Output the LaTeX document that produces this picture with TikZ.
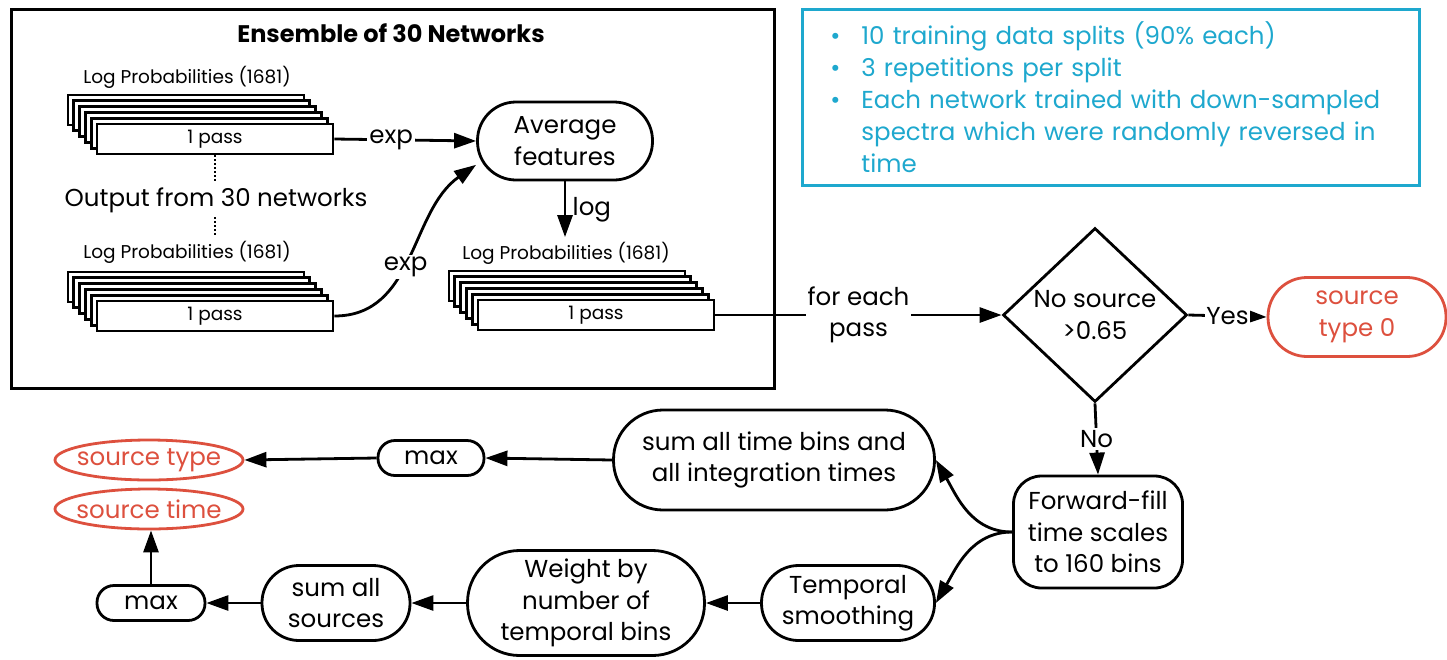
\documentclass[tikz,border=0pt]{standalone}
\usepackage{fontspec}
\setmainfont{Poppins}
\usetikzlibrary{shapes.geometric,arrows.meta}
\definecolor{srcred}{RGB}{221,80,62}
\definecolor{noteblue}{RGB}{30,168,206}

\begin{document}
\begin{tikzpicture}[x=1pt,y=1pt,line width=2.8pt,
                    >={Triangle[length=22pt,width=15pt]},
                    big/.style={font=\fontsize{24.5}{31.5}\selectfont},
                    small/.style={font=\fontsize{18.5}{22}\selectfont},
                    pass box/.style={draw,fill=white,minimum width=236pt,minimum height=30pt,inner sep=0pt,small},
                    round node/.style={draw,align=center,inner sep=0pt,big,minimum height=#1,rounded corners=#1/2-0.5pt},
                    out node/.style={draw=srcred,text=srcred,align=center,inner sep=0pt,big},
                    lbl/.style={fill=white,inner sep=2pt,big}]

  \useasboundingbox[fill=white] (0,0) rectangle (1447,-659);

  %Ensemble%
  \node[draw,anchor=north west,minimum width=763pt,minimum height=379pt,inner sep=0pt] (ensemble) at (10,-8) {};
  \node[font=\bfseries\fontsize{24}{28}\selectfont] (title) at (391,-33) {Ensemble of 30 Networks};

  \node[small] (toplab) at (187,-77) {Log Probabilities (1681)};
  \foreach \k in {5,4,3,2,1}
    \node[pass box] at (215-5.8*\k,-139+5.8*\k) {};
  \node[pass box] (top) at (215,-139) {1 pass};

  \node[big] (outtxt) at (216,-200) {Output from 30 networks};

  \node[small] (botlab) at (187,-252) {Log Probabilities (1681)};
  \foreach \k in {5,4,3,2,1}
    \node[pass box] at (215-5.8*\k,-316+5.8*\k) {};
  \node[pass box] (bot) at (215,-316) {1 pass};

  \draw[dotted,line width=2pt] (top.south) -- (top.south |- outtxt.north);
  \draw[dotted,line width=2pt] (top.south |- outtxt.south) -- (top.south |- botlab.north);

  \node[round node=78pt,minimum width=175pt] (avg) at (565,-141) {Average\\features};

  \node[small] (midlab) at (566,-253) {Log Probabilities (1681)};
  \foreach \k in {5,4,3,2,1}
    \node[pass box] at (596-5.8*\k,-315+5.8*\k) {};
  \node[pass box] (mid) at (596,-315) {1 pass};

  \draw[->] (top.east) -- node[lbl,pos=0.4] {exp} (avg.west);
  \draw[->] (bot.east) to[out=0,in=215] node[lbl,pos=0.45] {exp} (avg.195);
  \draw[->] (avg.south) -- node[right=3pt,big] {log} (avg.south |- midlab.north);

  %Notes%
  \node[draw=noteblue,text=noteblue,anchor=north west,minimum width=617pt,minimum height=176pt,
        text width=561pt,inner xsep=28pt,align=left,font=\fontsize{24.5}{32}\selectfont] (notes) at (801,-8)
    {\hangindent=31pt\hangafter=1\makebox[31pt][l]{\textbullet}10 training data splits (90\% each)\par
     \hangindent=31pt\hangafter=1\makebox[31pt][l]{\textbullet}3 repetitions per split\par
     \hangindent=31pt\hangafter=1\makebox[31pt][l]{\textbullet}Each network trained with down-sampled\newline
     spectra which were randomly reversed in\newline time\par};

  %Decision%
  \node[draw,diamond,minimum width=184pt,minimum height=174pt,inner sep=-12pt,align=center,big] (dia) at (1095,-315) {No source\\>0.65};
  \node[out node,rounded corners=39pt,minimum width=178pt,minimum height=79pt] (st0) at (1357,-317) {source\\type 0};
  \node[draw,rounded corners=28pt,minimum width=169pt,minimum height=112pt,inner sep=0pt,align=center,big] (ff) at (1098,-532) {Forward-fill\\time scales\\to 160 bins};

  \draw[->] (mid.east) -- node[lbl,align=center] {for each\\pass} (dia.west);
  \draw[->] (dia.east) -- node[lbl,inner sep=1pt] {Yes} (st0.west);
  \draw[->] (dia.south) -- node[lbl] {No} (ff.north);

  %Output chain%
  \node[round node=100pt,minimum width=321pt] (bins) at (774,-460) {sum all time bins and\\all integration times};
  \node[round node=35pt,minimum width=106pt] (max1) at (431,-458) {max};
  \node[out node,ellipse,inner sep=-9pt,minimum width=188pt,minimum height=40pt] (srctype) at (149,-460) {source type};
  \node[out node,ellipse,inner sep=-9pt,minimum width=188pt,minimum height=40pt] (srctime) at (149,-509) {source time};
  \node[round node=75pt,minimum width=173pt] (smooth) at (848,-603) {Temporal\\smoothing};
  \node[round node=105pt,minimum width=237pt] (weight) at (586,-603) {Weight by\\number of\\temporal bins};
  \node[round node=75pt,minimum width=148pt] (sumsrc) at (336,-603) {sum all\\sources};
  \node[round node=35pt,minimum width=108pt] (max2) at (151,-603) {max};

  \draw[->] (ff.west) to[out=180,in=-60] (bins.east);
  \draw[->] (ff.west) to[out=180,in=60] (smooth.east);
  \draw[->] (bins.west) -- (max1.east);
  \draw[->] (max1.west) -- (srctype.east);
  \draw[->] (smooth.west) -- (weight.east);
  \draw[->] (weight.west) -- (sumsrc.east);
  \draw[->] (sumsrc.west) -- (max2.east);
  \draw[->] (max2.north) -- (max2.north |- srctime.south);
\end{tikzpicture}
\end{document}
